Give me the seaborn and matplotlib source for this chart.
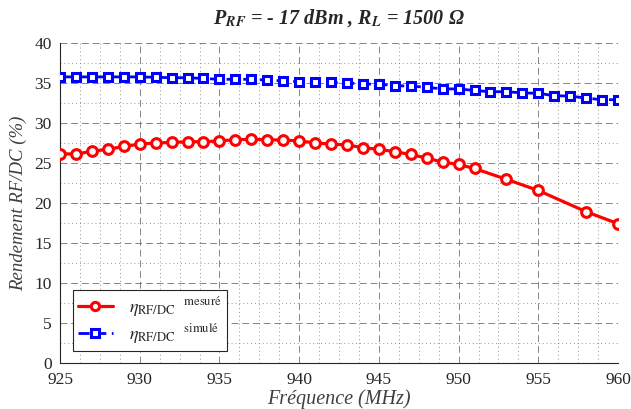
import numpy as np
import pandas as pd
import matplotlib
matplotlib.use("Agg")
import matplotlib.pyplot as plt
from matplotlib.ticker import MultipleLocator
import seaborn as sns

# ---- data ----
freq_mesure = [925, 926, 927, 928, 929, 930, 931, 932, 933, 934, 935, 936, 937, 938,
               939, 940, 941, 942, 943, 944, 945, 946, 947, 948, 949, 950, 951,
               953, 955, 958, 960]
eta_mesure = [26.2, 26.15, 26.5, 26.75, 27.1, 27.4, 27.55, 27.6, 27.7, 27.7, 27.8, 27.95,
              28.0, 27.95, 27.9, 27.8, 27.55, 27.4, 27.3, 26.95, 26.75, 26.45, 26.1,
              25.65, 25.15, 24.85, 24.35, 23.0, 21.6, 18.95, 17.45]
freq_simule = list(range(925, 961))
eta_simule = [35.8, 35.8, 35.8, 35.8, 35.8, 35.8, 35.75, 35.7, 35.7, 35.6, 35.5, 35.5,
              35.5, 35.4, 35.3, 35.2, 35.2, 35.1, 35.05, 34.9, 34.9, 34.7, 34.65, 34.5,
              34.3, 34.3, 34.1, 33.95, 33.95, 33.8, 33.75, 33.45, 33.4, 33.15, 32.95, 32.95]

x_ticks = [925, 930, 935, 940, 945, 950, 955, 960]
y_ticks = [0, 5, 10, 15, 20, 25, 30, 35, 40]
title_text = r'P$_{\mathbfit{RF}}$ = - 17 dBm , R$_{\mathbfit{L}}$ = 1500 Ω'
xlabel_text = 'Fréquence (MHz)'
ylabel_text = 'Rendement RF/DC (%)'
label_mesure = r'$\eta_{\mathrm{RF/DC}}\ \ {}^{\mathrm{mesuré}}$'
label_simule = r'$\eta_{\mathrm{RF/DC}}\ \ {}^{\mathrm{simulé}}$'

df_m = pd.DataFrame({"f": freq_mesure, "eta": eta_mesure})
df_s = pd.DataFrame({"f": freq_simule, "eta": eta_simule})

sns.set_style("white")
plt.rcParams['font.family'] = ['Liberation Serif', 'DejaVu Serif']
plt.rcParams['mathtext.fontset'] = 'stix'

fig = plt.figure(figsize=(6.31, 4.09), dpi=100)
ax = fig.add_axes([60/631, 1-363.3/409, 558/631, 320/409])

sns.lineplot(data=df_m, x="f", y="eta", ax=ax, color="#ff0000", linewidth=2.3,
             marker="o", markersize=7.0, markerfacecolor="white",
             markeredgecolor="#ff0000", markeredgewidth=2.2,
             label=label_mesure, zorder=4)
sns.lineplot(data=df_s, x="f", y="eta", ax=ax, color="#0000ff", linewidth=2.0,
             linestyle="--", marker="s", markersize=6.0, markerfacecolor="white",
             markeredgecolor="#0000ff", markeredgewidth=2.2,
             label=label_simule, zorder=3)
for l in ax.get_lines():
    if l.get_linestyle() == '--':
        l.set_dashes([4, 2])

ax.set_xlim(925, 960)
ax.set_ylim(0, 40)
ax.set_xticks(x_ticks)
ax.set_yticks(y_ticks)
ax.xaxis.set_minor_locator(MultipleLocator(1.25))
ax.yaxis.set_minor_locator(MultipleLocator(2.5))
ax.grid(which='major', linestyle=(0, (7, 4)), color='#666666', linewidth=0.7, alpha=0.8)
ax.grid(which='minor', linestyle=(0, (1, 3)), color='#666666', linewidth=0.7, alpha=0.7)
ax.tick_params(which='major', direction='in', length=5, width=0.8, colors='#262626',
               labelsize=12.5, pad=6)
ax.tick_params(which='minor', length=0)
for s in ['top', 'right']:
    ax.spines[s].set_visible(False)
for s in ['left', 'bottom']:
    ax.spines[s].set_color('#262626')
    ax.spines[s].set_linewidth(0.8)

ax.set_xlabel(xlabel_text, fontsize=14.5, fontstyle='italic', color='#404040', labelpad=1)
ax.set_ylabel(ylabel_text, fontsize=13.5, fontstyle='italic', color='#404040', labelpad=5)
ax.set_title(title_text, fontsize=14.5, fontweight='bold', fontstyle='italic', pad=14)

leg = ax.legend(loc='lower left', bbox_to_anchor=(0.023, 0.038), borderaxespad=0,
                fontsize=13, frameon=True, fancybox=False, edgecolor='#262626',
                framealpha=1, handlelength=1.9, borderpad=0.3, labelspacing=0.15,
                handletextpad=0.9, markerscale=0.85)
leg.get_frame().set_linewidth(0.8)

fig.savefig("out.png", dpi=100)
